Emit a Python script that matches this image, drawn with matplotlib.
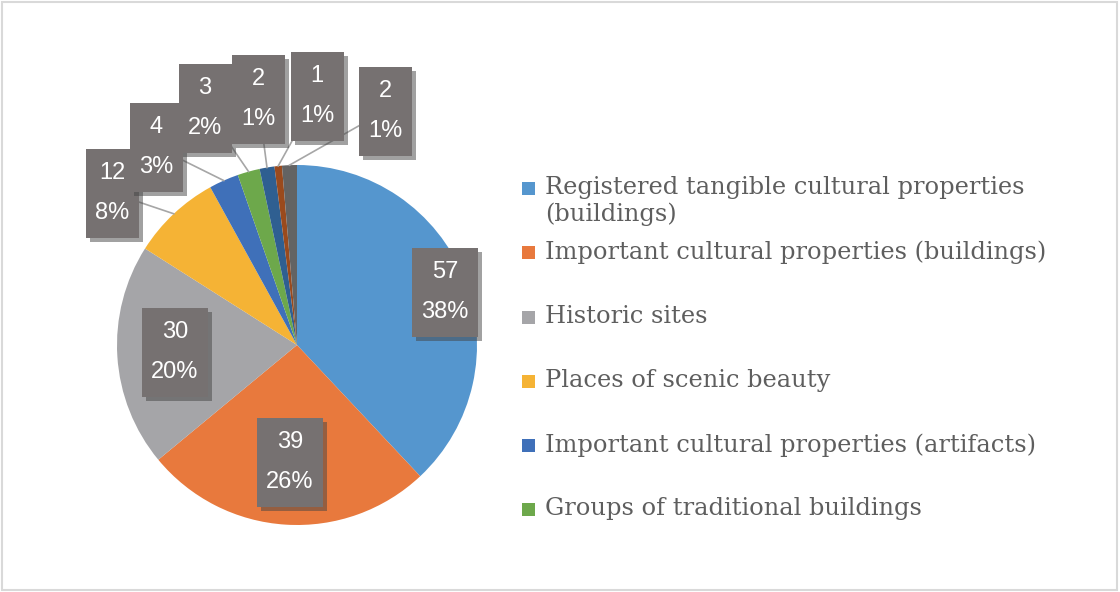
import numpy as np
import matplotlib
matplotlib.use("Agg")
import matplotlib.pyplot as plt
import matplotlib.patheffects as pe
from matplotlib.patches import Rectangle

# data
values = [57, 39, 30, 12, 4, 3, 2, 1, 2]
colors = ['#5596CE', '#E8793D', '#A5A5A8', '#F5B335', '#3F70B9',
          '#6DA84B', '#2F5F91', '#9A4A1D', '#636363']
legend_labels = ['Registered tangible cultural properties\n(buildings)',
                 'Important cultural properties (buildings)',
                 'Historic sites',
                 'Places of scenic beauty',
                 'Important cultural properties (artifacts)',
                 'Groups of traditional buildings']

W, H = 1120, 592
def Y(y):  # pixel row -> data y
    return H - y

fig = plt.figure(figsize=(11.2, 5.92), dpi=100)
ax = fig.add_axes([0, 0, 1, 1])

cx, cy, r = 297, Y(345), 180
wedges, _ = ax.pie(values, colors=colors, startangle=90, counterclock=False,
                   center=(cx, cy), radius=r,
                   wedgeprops=dict(linewidth=0))
ax.set_xlim(0, W); ax.set_ylim(0, H)
ax.set_aspect('equal'); ax.axis('off')

# data label boxes (pixel centres)
label_pos = [(445, 292), (290, 462), (175, 352), (112, 193), (156, 147),
             (205, 108), (258, 99), (317, 96), (385, 111)]
total = sum(values)
shadow = [pe.withSimplePatchShadow(offset=(3, -3), shadow_rgbFace='#444444',
                                   alpha=0.5), pe.Normal()]
for i, (w, v) in enumerate(zip(wedges, values)):
    bx, by = label_pos[i]
    pct = f"{round(100*v/total):.0f}%"
    if i >= 3:
        mid = np.deg2rad((w.theta1 + w.theta2) / 2)
        ex, ey = cx + r*np.cos(mid), cy + r*np.sin(mid)
        ax.plot([ex, bx], [ey, Y(by)], color='#A6A6A6', lw=1.2, zorder=3)
    bw, bh = (66 if len(pct) == 3 else 53), 89
    box = Rectangle((bx - bw/2, Y(by) - bh/2), bw, bh, fc='#767171',
                    ec='none', zorder=5)
    box.set_path_effects(shadow)
    ax.add_patch(box)
    ax.text(bx, Y(by), f"{v}\n{pct}", ha='center', va='center',
            color='white', fontsize=17, linespacing=2.1,
            family='Liberation Sans', zorder=6)

# legend (only first six entries visible)
legend_y = [188, 252, 317, 381, 445, 509]
for lab, col, ly in zip(legend_labels, colors, legend_y):
    ax.add_patch(Rectangle((522, Y(ly) - 6.5), 13, 13, fc=col, ec='none'))
    ax.text(545, Y(ly) + 12, lab, ha='left', va='top', fontsize=17.4,
            family='DejaVu Serif', color='#5E5E5E', linespacing=1.2)

# outer border
fig.patches.append(Rectangle((0.002, 0.003), 0.995, 0.993, transform=fig.transFigure,
                             fill=False, ec='#D9D9D9', lw=1.5))
fig.savefig('out.png', dpi=100)
